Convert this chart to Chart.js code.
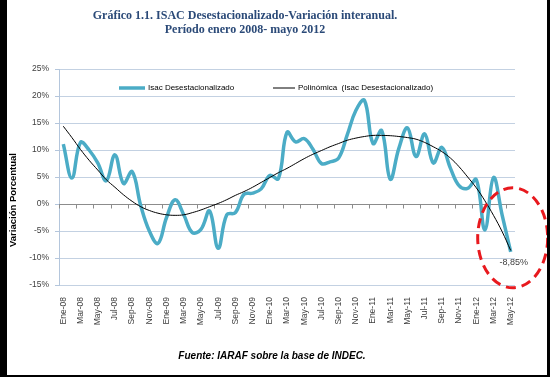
<!DOCTYPE html>
<html>
<head>
<meta charset="utf-8">
<script src="https://cdn.jsdelivr.net/npm/chart.js@4.4.0/dist/chart.umd.min.js"></script>
<style>
  body { margin: 0; background: #fff; }
  #wrap { position: relative; width: 550px; height: 377px; overflow: hidden; }
  .frame { position: absolute; background: #000; }
</style>
</head>
<body>
<div id="wrap">
  <canvas id="myChart" width="550" height="377"></canvas>
  <div class="frame" style="left:0;top:0;width:7px;height:377px"></div>
  <div class="frame" style="left:547px;top:0;width:3px;height:377px"></div>
  <div class="frame" style="left:0;top:375px;width:550px;height:2px"></div>
</div>
<script>
// meses Ene-08 .. May-12
var meses = ['Ene','Feb','Mar','Abr','May','Jun','Jul','Ago','Sep','Oct','Nov','Dic']
var anios = ['08','09','10','11','12']
var labels = []
for (var a = 0; a < anios.length; a++) {
    for (var m = 0; m < 12; m++) {
        if (a == 4 && m > 4) break
        labels.push(meses[m] + '-' + anios[a])
    }
}

// variacion interanual ISAC desestacionalizado (%)
var isac = [11.1, 4.8, 11.4, 10.0, 7.6, 4.3, 9.1, 3.8, 6.0, -0.3,
            -5.0, -7.3, -2.5, 0.8, -2.0, -5.3, -4.7, -1.3, -8.2, -2.0,
            -1.6, 1.8, 2.0, 2.8, 5.3, 4.7, 13.3, 11.5, 12.1, 10.2,
            7.5, 7.8, 8.5, 12.8, 17.3, 19.2, 11.2, 13.6, 4.6, 10.3,
            14.1, 8.8, 13.0, 7.6, 10.5, 6.6, 3.4, 2.9, 4.5, -4.8,
            4.9, -2.0, -8.85]

// linea de tendencia polinomica
var tendencia = [14.4, 12.3, 10.1, 8.1, 6.3, 4.5, 3.1, 1.7, 0.5, -0.5,
                 -1.2, -1.7, -2.0, -2.1, -2.0, -1.6, -1.1, -0.5, 0.1, 0.8,
                 1.6, 2.3, 3.1, 4.0, 4.9, 5.8, 6.6, 7.5, 8.4, 9.2,
                 9.9, 10.6, 11.2, 11.8, 12.2, 12.5, 12.7, 12.7, 12.65, 12.5,
                 12.3, 12.0, 11.4, 10.6, 9.7, 8.5, 6.9, 5.0, 3.0, 0.6,
                 -2.1, -5.1, -8.6]

var yTicks = [-15, -10, -5, 0, 5, 10, 15, 20, 25]
var ultimoTexto = '-8,85%'

var colorIsac = '#4bacc6'
var colorTend = '#000000'

Chart.defaults.font.family = 'Liberation Sans'

var extras = {
    id: 'extras',
    beforeDatasetsDraw: function(chart) {
        // eje en 0% con marcas cada dos meses
        var ctx = chart.ctx, x = chart.scales.x, y = chart.scales.y, area = chart.chartArea
        var y0 = Math.round(y.getPixelForValue(0)) + 0.5
        var half = (x.getPixelForValue(1) - x.getPixelForValue(0)) / 2
        ctx.save()
        ctx.strokeStyle = '#8c8c8c'
        ctx.lineWidth = 1
        ctx.beginPath()
        ctx.moveTo(area.left, y0)
        ctx.lineTo(area.right, y0)
        for (var i = 0; i < labels.length; i += 2) {
            var px = Math.round(x.getPixelForValue(i) - half) + 0.5
            ctx.moveTo(px, y0)
            ctx.lineTo(px, y0 + 4)
        }
        ctx.stroke()
        ctx.restore()
    },
    afterDraw: function(chart) {
        var ctx = chart.ctx, x = chart.scales.x, y = chart.scales.y
        ctx.save()

        // titulo
        ctx.fillStyle = '#2b4a78'
        ctx.font = 'bold 12px "Liberation Serif"'
        ctx.textAlign = 'center'
        ctx.textBaseline = 'middle'
        ctx.fillText('Gráfico 1.1. ISAC Desestacionalizado-Variación interanual.', 245, 16)
        ctx.fillText('Período enero 2008- mayo 2012', 245, 30)

        // titulo eje y
        ctx.save()
        ctx.translate(13, 200)
        ctx.rotate(-Math.PI / 2)
        ctx.fillStyle = '#000'
        ctx.font = 'bold 9.5px "Liberation Sans"'
        ctx.fillText('Variación Porcentual', 0, 0)
        ctx.restore()

        // leyenda
        ctx.font = '8px "Liberation Sans"'
        ctx.textAlign = 'left'
        ctx.fillStyle = '#000'
        var items = chart.data.datasets
        var lx = [119, 273], lw = [26, 22]
        for (var k = 0; k < items.length; k++) {
            ctx.strokeStyle = items[k].borderColor
            ctx.lineWidth = items[k].borderWidth
            ctx.beginPath()
            ctx.moveTo(lx[k], 88)
            ctx.lineTo(lx[k] + lw[k], 88)
            ctx.stroke()
            ctx.fillText(items[k].label, lx[k] + lw[k] + 3, 88)
        }

        // ultimo dato y ovalo
        var n = isac.length - 1
        var px = x.getPixelForValue(n), py = y.getPixelForValue(isac[n])
        ctx.fillStyle = '#404040'
        ctx.font = '9px "Liberation Sans"'
        ctx.textAlign = 'center'
        ctx.fillText(ultimoTexto, px + 3, py + 11)

        ctx.strokeStyle = '#e8191e'
        ctx.lineWidth = 3
        ctx.setLineDash([10, 6])
        ctx.beginPath()
        ctx.ellipse(px + 2, py - 14, 35, 50, 0, 0, Math.PI * 2)
        ctx.stroke()
        ctx.setLineDash([])

        // fuente
        ctx.fillStyle = '#000'
        ctx.font = 'italic bold 10px "Liberation Sans"'
        ctx.fillText('Fuente: IARAF sobre la base de INDEC.', 272, 356)
        ctx.restore()
    }
}

var ctx = document.getElementById('myChart').getContext('2d')
var myChart = new Chart(ctx, {
    type: 'line',
    data: {
        labels: labels,
        datasets: [{
            label: 'Isac Desestacionalizado',
            data: isac,
            borderColor: colorIsac,
            borderWidth: 3.5,
            tension: 0.4,
            pointRadius: 0,
            order: 2
        }, {
            label: 'Polinómica  (Isac Desestacionalizado)',
            data: tendencia,
            borderColor: colorTend,
            borderWidth: 1,
            tension: 0.4,
            pointRadius: 0,
            order: 1
        }]
    },
    options: {
        responsive: false,
        animation: false,
        layout: { padding: { left: 0, right: 35, top: 69, bottom: 42 } },
        plugins: {
            legend: { display: false },
            tooltip: { enabled: false }
        },
        scales: {
            x: {
                offset: true,
                grid: { display: false, drawTicks: false },
                border: { display: false },
                afterFit: function(s) { s.height = 50 },
                ticks: {
                    autoSkip: false,
                    maxRotation: 90,
                    minRotation: 90,
                    padding: 12,
                    color: '#404040',
                    font: { size: 8.5 },
                    callback: function(v, i) { return i % 2 == 0 ? labels[i] : '' }
                }
            },
            y: {
                min: -15,
                max: 25,
                afterFit: function(s) { s.width = 59 },
                afterBuildTicks: function(s) { s.ticks = yTicks.map(function(v) { return { value: v } }) },
                grid: { color: '#c3d1e2', tickLength: 4, tickColor: '#b4c6dc' },
                border: { color: '#b4c6dc' },
                ticks: {
                    padding: 6,
                    color: '#404040',
                    font: { size: 8.5 },
                    callback: function(v) { return v + '%' }
                }
            }
        }
    },
    plugins: [extras]
})
</script>
</body>
</html>
